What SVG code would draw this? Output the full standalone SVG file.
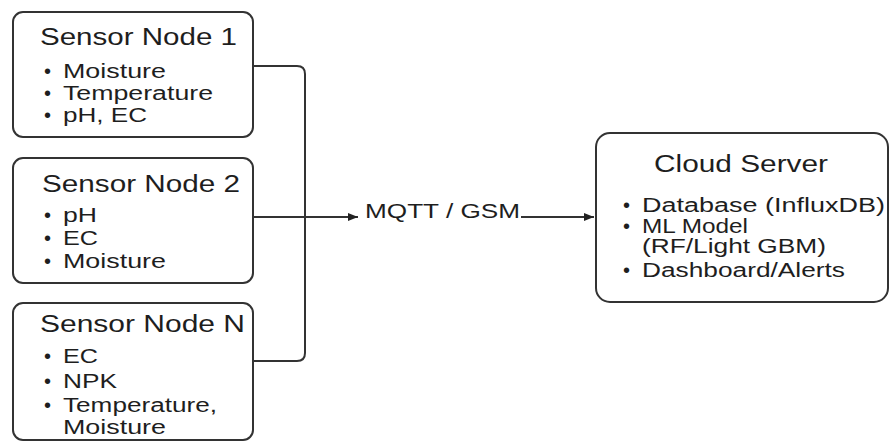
<svg xmlns="http://www.w3.org/2000/svg" width="891" height="442" viewBox="0 0 891 442">
<style>
  .box { fill: #ffffff; stroke: #333333; stroke-width: 2; }
  .title { font-family: "Liberation Sans", Arial, sans-serif; font-size: 23px; fill: #1e1e1e; }
  .item { font-family: "Liberation Sans", Arial, sans-serif; font-size: 20px; fill: #1e1e1e; }
  .conn { fill: none; stroke: #333333; stroke-width: 2; }
</style>
<defs>
  <marker id="arrow" viewBox="0 0 10 10" refX="10" refY="5" markerWidth="5" markerHeight="5" orient="auto" markerUnits="strokeWidth">
    <path d="M0,1 L10,5 L0,9 z" fill="#222222"/>
  </marker>
</defs>
<rect width="891" height="442" fill="#ffffff"/>

<g id="connectors">
  <path class="conn" d="M253,66 H297 Q305,66 305,74 V353 Q305,361 297,361 H253"/>
  <line class="conn" x1="253" y1="217" x2="358" y2="217" marker-end="url(#arrow)"/>
  <line class="conn" x1="521" y1="217" x2="594" y2="217" marker-end="url(#arrow)"/>
  <text class="item" x="365" y="218" textLength="155" lengthAdjust="spacingAndGlyphs">MQTT / GSM</text>
</g>

<g id="node1">
  <rect class="box" x="13" y="12" width="240" height="125" rx="10"/>
  <text class="title" x="40" y="45" textLength="197" lengthAdjust="spacingAndGlyphs">Sensor Node 1</text>
  <text class="item" x="44" y="78">•</text>
  <text class="item" x="63" y="78" textLength="103" lengthAdjust="spacingAndGlyphs">Moisture</text>
  <text class="item" x="44" y="100">•</text>
  <text class="item" x="63" y="100" textLength="150" lengthAdjust="spacingAndGlyphs">Temperature</text>
  <text class="item" x="44" y="122">•</text>
  <text class="item" x="63" y="122" textLength="84" lengthAdjust="spacingAndGlyphs">pH, EC</text>
</g>

<g id="node2">
  <rect class="box" x="13" y="158" width="240" height="125" rx="10"/>
  <text class="title" x="42" y="192" textLength="198" lengthAdjust="spacingAndGlyphs">Sensor Node 2</text>
  <text class="item" x="44" y="222">•</text>
  <text class="item" x="63" y="222" textLength="34" lengthAdjust="spacingAndGlyphs">pH</text>
  <text class="item" x="44" y="245">•</text>
  <text class="item" x="63" y="245" textLength="35" lengthAdjust="spacingAndGlyphs">EC</text>
  <text class="item" x="44" y="268">•</text>
  <text class="item" x="63" y="268" textLength="103" lengthAdjust="spacingAndGlyphs">Moisture</text>
</g>

<g id="nodeN">
  <rect class="box" x="13" y="303" width="240" height="137" rx="10"/>
  <text class="title" x="40" y="332" textLength="205" lengthAdjust="spacingAndGlyphs">Sensor Node N</text>
  <text class="item" x="44" y="363">•</text>
  <text class="item" x="63" y="363" textLength="35" lengthAdjust="spacingAndGlyphs">EC</text>
  <text class="item" x="44" y="388">•</text>
  <text class="item" x="63" y="388" textLength="54" lengthAdjust="spacingAndGlyphs">NPK</text>
  <text class="item" x="44" y="412">•</text>
  <text class="item" x="63" y="412" textLength="154" lengthAdjust="spacingAndGlyphs">Temperature,</text>
  <text class="item" x="63" y="434" textLength="103" lengthAdjust="spacingAndGlyphs">Moisture</text>
</g>

<g id="cloud">
  <rect class="box" x="596" y="133" width="292" height="169" rx="14"/>
  <text class="title" x="654" y="172" textLength="174" lengthAdjust="spacingAndGlyphs">Cloud Server</text>
  <text class="item" x="623" y="212">•</text>
  <text class="item" x="642" y="212" textLength="243" lengthAdjust="spacingAndGlyphs">Database (InfluxDB)</text>
  <text class="item" x="623" y="233">•</text>
  <text class="item" x="642" y="233" textLength="106" lengthAdjust="spacingAndGlyphs">ML Model</text>
  <text class="item" x="642" y="253" textLength="184" lengthAdjust="spacingAndGlyphs">(RF/Light GBM)</text>
  <text class="item" x="623" y="277">•</text>
  <text class="item" x="642" y="277" textLength="203" lengthAdjust="spacingAndGlyphs">Dashboard/Alerts</text>
</g>
</svg>
